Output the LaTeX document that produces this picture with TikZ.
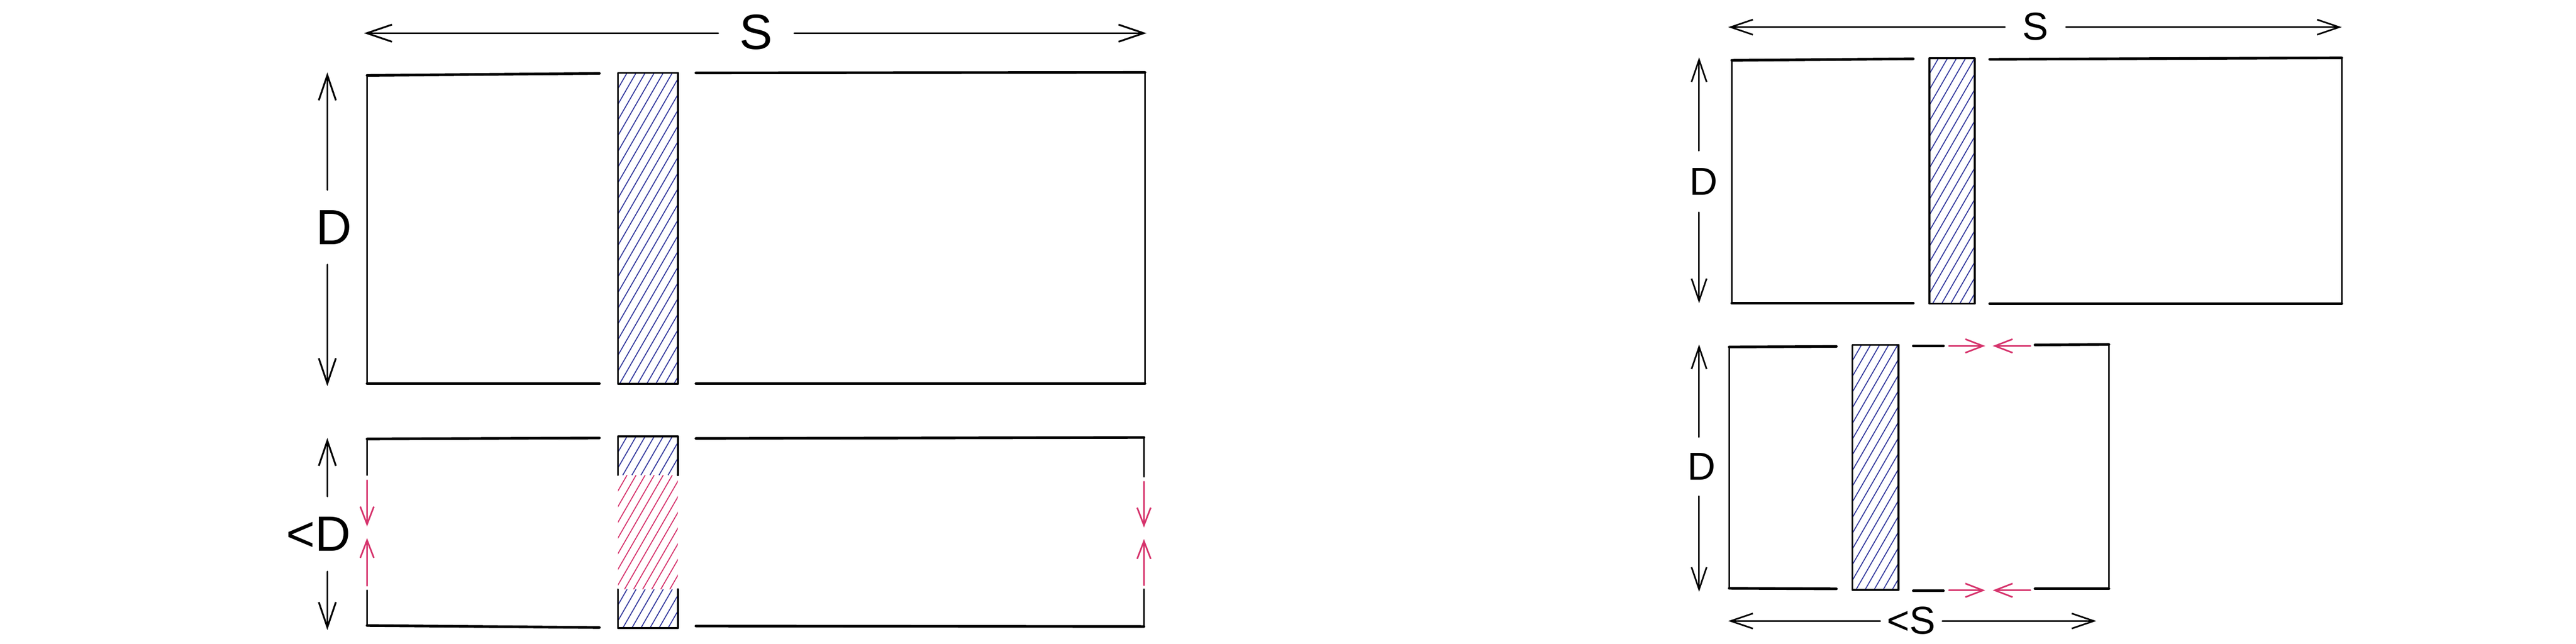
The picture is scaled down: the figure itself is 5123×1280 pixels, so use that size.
\documentclass[tikz,border=0pt]{standalone}
\usepackage{fontspec}
\setmainfont{Liberation Sans}
\usetikzlibrary{arrows.meta}
\definecolor{hblue}{RGB}{52,58,158}
\definecolor{hred}{RGB}{214,51,108}
\tikzset{
  edgeh/.style={line width=1.5pt, line cap=round},
  edgev/.style={line width=1pt, line cap=round},
  stripedge/.style={line width=1.1pt, line cap=round, line join=round},
  dimarrow/.style={line width=1pt, line cap=round, -{Straight Barb[length=5mm,width=3.4mm,line width=1pt]}},
  dimarrowsm/.style={line width=0.9pt, line cap=round, -{Straight Barb[length=4.4mm,width=3mm,line width=0.9pt]}},
  redarrow/.style={hred, line width=0.9pt, line cap=round, -{Straight Barb[length=3.5mm,width=2.7mm,line width=0.9pt]}},
  hatchline/.style={line width=0.55pt},
  biglbl/.style={inner sep=0pt, font=\fontsize{28}{30}\selectfont},
  smalllbl/.style={inner sep=0pt, font=\fontsize{22}{24}\selectfont},
}
% #1 x0, #2 ytop, #3 x1, #4 ybottom, #5 colour
\newcommand\hatchbox[5]{%
  \begin{scope}
    \clip (#1,#2) rectangle (#3,#4);
    \pgfmathsetmacro\hdx{0.577*(#4-#2)}
    \pgfmathsetmacro\hstart{#1-\hdx}
    \pgfmathtruncatemacro\hnn{(#3-#1+\hdx)/18+1}
    \foreach \i in {0,...,\hnn}{
      \draw[hatchline,#5] ({\hstart+18*\i},#4) -- ({\hstart+18*\i+\hdx},#2);
    }
  \end{scope}%
}
\begin{document}
\begin{tikzpicture}[x=0.01cm,y=-0.01cm]
\useasboundingbox (0,0) rectangle (5123,1280);
\fill[white] (0,0) rectangle (5123,1280);

% ================= LEFT TOP =================
\hatchbox{1229}{145}{1348}{763}{hblue}
\draw[stripedge] (1229,145) rectangle (1348,763);
\draw[edgeh] (730,150) -- (1192,146);
\draw[edgeh] (1384,145) -- (2277,144);
\draw[edgeh] (730,763) -- (1192,763);
\draw[edgeh] (1384,763) -- (2277,763);
\draw[edgev] (730,150) -- (730,763);
\draw[edgev] (2277,144) -- (2277,763);

\node[biglbl, minimum width=1.5cm] (S1) at (1504,64) {S};
\coordinate (S1l) at (724,66);
\coordinate (S1r) at (2280,66);
\draw[dimarrow] (S1.west |- S1l) -- (S1l);
\draw[dimarrow] (S1.east |- S1r) -- (S1r);

\node[biglbl, minimum height=1.47cm] (D1) at (664,452) {D};
\coordinate (D1t) at (651,144);
\coordinate (D1b) at (651,768);
\draw[dimarrow] (D1t |- D1.north) -- (D1t);
\draw[dimarrow] (D1b |- D1.south) -- (D1b);

% ================= LEFT BOTTOM =================
\hatchbox{1229}{868}{1348}{945}{hblue}
\hatchbox{1229}{945}{1348}{1172}{hred}
\hatchbox{1229}{1172}{1348}{1249}{hblue}
\draw[stripedge] (1229,945) -- (1229,868) -- (1348,868) -- (1348,945);
\draw[stripedge] (1229,1172) -- (1229,1249) -- (1348,1249) -- (1348,1172);
\draw[edgeh] (730,873) -- (1192,871);
\draw[edgeh] (1384,872) -- (2275,870);
\draw[edgeh] (730,1244) -- (1192,1248);
\draw[edgeh] (1384,1245) -- (2275,1246);
\draw[edgev] (730,873) -- (730,945);
\draw[edgev] (730,1174) -- (730,1244);
\draw[edgev] (2275,870) -- (2275,948);
\draw[edgev] (2275,1172) -- (2275,1246);

\coordinate (L1a) at (730,955);  \coordinate (L1b) at (730,1047);
\coordinate (L2a) at (730,1165); \coordinate (L2b) at (730,1070);
\coordinate (R1a) at (2275,958); \coordinate (R1b) at (2275,1049);
\coordinate (R2a) at (2275,1164);\coordinate (R2b) at (2275,1072);
\draw[redarrow] (L1a) -- (L1b);
\draw[redarrow] (L2a) -- (L2b);
\draw[redarrow] (R1a) -- (R1b);
\draw[redarrow] (R2a) -- (R2b);

\node[biglbl, minimum height=1.48cm] (D2) at (633,1062) {<D};
\coordinate (D2t) at (651,871);
\coordinate (D2b) at (651,1253);
\draw[dimarrow] (D2t |- D2.north) -- (D2t);
\draw[dimarrow] (D2b |- D2.south) -- (D2b);

% ================= RIGHT TOP =================
\hatchbox{3837}{116}{3927}{604}{hblue}
\draw[stripedge] (3837,116) rectangle (3927,604);
\draw[edgeh] (3444,120) -- (3805,117);
\draw[edgeh] (3957,118) -- (4657,115);
\draw[edgeh] (3444,603) -- (3805,603);
\draw[edgeh] (3957,604) -- (4657,604);
\draw[edgev] (3444,120) -- (3444,603);
\draw[edgev] (4657,115) -- (4657,604);

\node[smalllbl, minimum width=1.2cm] (S3) at (4048,53) {S};
\coordinate (S3l) at (3437,54);
\coordinate (S3r) at (4657,54);
\draw[dimarrowsm] (S3.west |- S3l) -- (S3l);
\draw[dimarrowsm] (S3.east |- S3r) -- (S3r);

\node[smalllbl, minimum height=1.21cm] (D3) at (3388,361) {D};
\coordinate (D3t) at (3379,114);
\coordinate (D3b) at (3379,603);
\draw[dimarrowsm] (D3t |- D3.north) -- (D3t);
\draw[dimarrowsm] (D3b |- D3.south) -- (D3b);

% ================= RIGHT BOTTOM =================
\hatchbox{3684}{686}{3776}{1173}{hblue}
\draw[stripedge] (3684,686) rectangle (3776,1173);
\draw[edgeh] (3439,690) -- (3652,689);
\draw[edgeh] (3805,688) -- (3865,688);
\draw[edgeh] (4047,686) -- (4194,685);
\draw[edgeh] (3439,1170) -- (3652,1171);
\draw[edgeh] (3805,1175) -- (3865,1175);
\draw[edgeh] (4047,1171) -- (4194,1171);
\draw[edgev] (3439,690) -- (3439,1170);
\draw[edgev] (4194,685) -- (4194,1171);

\coordinate (T1a) at (3876,688);  \coordinate (T1b) at (3948,688);
\coordinate (T2a) at (4038,688);  \coordinate (T2b) at (3963,688);
\coordinate (B1a) at (3876,1174); \coordinate (B1b) at (3948,1174);
\coordinate (B2a) at (4038,1174); \coordinate (B2b) at (3963,1174);
\draw[redarrow] (T1a) -- (T1b);
\draw[redarrow] (T2a) -- (T2b);
\draw[redarrow] (B1a) -- (B1b);
\draw[redarrow] (B2a) -- (B2b);

\node[smalllbl, minimum height=1.16cm] (D4) at (3384,928) {D};
\coordinate (D4t) at (3379,685);
\coordinate (D4b) at (3379,1177);
\draw[dimarrowsm] (D4t |- D4.north) -- (D4t);
\draw[dimarrowsm] (D4b |- D4.south) -- (D4b);

\node[smalllbl, minimum width=1.22cm] (S4) at (3801,1234) {<S};
\coordinate (S4l) at (3437,1235);
\coordinate (S4r) at (4169,1235);
\draw[dimarrowsm] (S4.west |- S4l) -- (S4l);
\draw[dimarrowsm] (S4.east |- S4r) -- (S4r);
\end{tikzpicture}
\end{document}
